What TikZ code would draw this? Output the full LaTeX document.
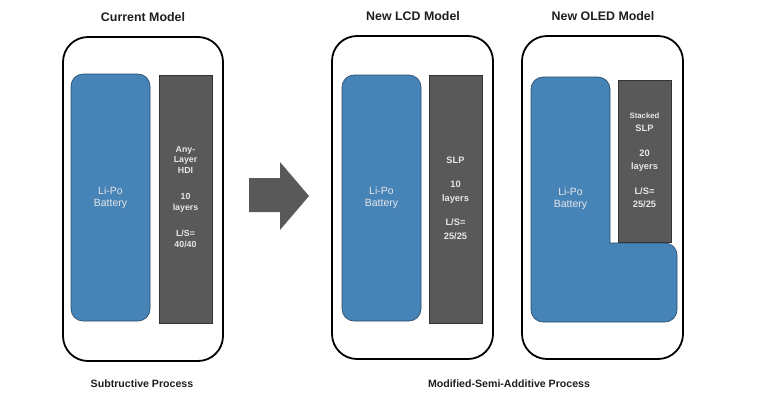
\documentclass[tikz,border=0pt]{standalone}
\usepackage{fontspec}
\setmainfont{Liberation Sans}
\usetikzlibrary{positioning}
\definecolor{lipoblue}{HTML}{4684B8}
\definecolor{boardgray}{HTML}{595959}
\definecolor{boardtext}{HTML}{E6E6E6}
\definecolor{titleink}{HTML}{1E1E1E}

\begin{document}
\begin{tikzpicture}[x=1pt, y=-1pt,
  phone/.style={draw, line width=1.8pt, rounded corners=25pt, inner sep=0pt, minimum width=161pt, minimum height=323pt},
  battery/.style={fill=lipoblue, draw=lipoblue!55!black, line width=0.6pt, rounded corners=12pt},
  batterybox/.style={battery, inner sep=0pt, minimum width=79pt, minimum height=247pt},
  board/.style={fill=boardgray, draw=black!80, line width=0.6pt, inner sep=0pt, minimum width=53pt},
  batterylabel/.style={text=boardtext, font=\fontsize{10.5}{12}\selectfont, align=center},
  boardlabel/.style={text=boardtext, font=\fontsize{8.8}{10.5}\selectfont\bfseries, align=center},
  title/.style={text=titleink, font=\fontsize{12.4}{14}\selectfont\bfseries},
  caption/.style={text=titleink, font=\fontsize{10.6}{12}\selectfont\bfseries}]
\useasboundingbox (0,0) rectangle (760,397);

% titles
\node[title] (currenttitle) at (143,17) {Current Model};
\node[title] (lcdtitle) at (413,16) {New LCD Model};
\node[title] (oledtitle) at (603,16) {New OLED Model};

% current model
\node[phone, minimum height=324pt, minimum width=160pt] (currentphone) at (143,199) {};
\node[batterybox] (currentbattery) at (110.5,197.5) {};
\node[batterylabel] at (currentbattery) {Li-Po\\Battery};
\node[board, minimum height=248pt] (currentboard) at (185.5,199) {};
\node[boardlabel] at (185.5,197) {Any-\\Layer\\HDI\\[16pt]10\\layers\\[16pt]L/S=\\40/40};

% arrow
\fill[boardgray] (249,178) -- (280,178) -- (280,162) -- (309,196) -- (280,230) -- (280,212) -- (249,212) -- cycle;

% new LCD model
\node[phone] (lcdphone) at (412.5,197.5) {};
\node[batterybox, minimum height=246pt] (lcdbattery) at (381.5,198) {};
\node[batterylabel] at (lcdbattery) {Li-Po\\Battery};
\node[board, minimum height=248pt] (lcdboard) at (455.5,199) {};
\node[boardlabel, font=\fontsize{9.3}{14}\selectfont\bfseries] at (455.5,198.5) {SLP\\[10pt]10\\layers\\[10pt]L/S=\\25/25};

% new OLED model
\node[phone] (oledphone) at (602.5,197.5) {};
\draw[battery] (531,200) [rounded corners=12pt] -- (531,77) -- (610,77) -- (610,200) [sharp corners] -- (610,243) -- (645,243) [rounded corners=12pt] -- (677,243) -- (677,322) -- (531,322) -- cycle;
\node[batterylabel] (oledbattery) at (570.5,199) {Li-Po\\Battery};
\node[board, minimum height=162pt] (oledboard) at (644.5,161) {};
\node[boardlabel, font=\fontsize{9.3}{13.5}\selectfont\bfseries] at (644.5,160.5) {{\fontsize{7.8}{13.5}\selectfont Stacked}\\SLP\\[11pt]20\\layers\\[11pt]L/S=\\25/25};

% process captions
\node[caption] (subcaption) at (142,384) {Subtructive Process};
\node[caption] (msapcaption) at (509,384) {Modified-Semi-Additive Process};
\end{tikzpicture}
\end{document}
